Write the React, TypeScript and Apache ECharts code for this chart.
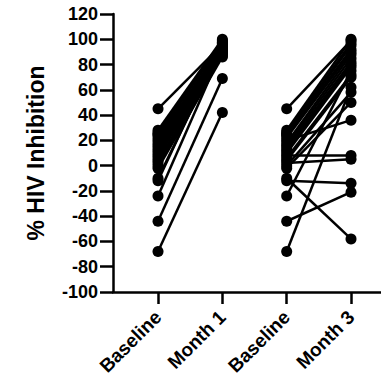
import React, { useEffect, useRef } from "react";
import * as echarts from "echarts";

const categories = ["Baseline", "Month 1", "Baseline", "Month 3"];
const yTicks = [-100, 120, 20]; // min, max, interval

// Paired subjects
const baseline = [45, 28, 26, 25, 24, 22, 20, 18, 16, 14, 12, 10, 8, 6, 4, 2, 0, -2, -10, -12, -24, -44, -68];
const month1 = [96, 100, 98, 97, 99, 95, 94, 93, 92, 91, 90, 89, 88, 95, 87, 93, 90, 86, 94, 97, 92, 69, 42];
const month3 = [99, 100, 97, 95, 92, 90, 36, 88, 85, 82, 80, 78, 8, 72, 70, 5, 58, 50, -58, -14, 75, -21, 62];

const FONT = "Arial, 'Liberation Sans', sans-serif";

export default function App() {
  const ref = useRef<HTMLDivElement>(null);
  useEffect(() => {
    if (!ref.current) return;
    const chart = echarts.init(ref.current, null, { renderer: "svg" });
    const series: any[] = [];
    baseline.forEach((b, i) => {
      series.push({
        type: "line",
        data: [[1, b], [2, month1[i]]],
        symbol: "circle",
        symbolSize: 11,
        lineStyle: { color: "#000", width: 2.5 },
        itemStyle: { color: "#000" },
      });
      series.push({
        type: "line",
        data: [[3, b], [4, month3[i]]],
        symbol: "circle",
        symbolSize: 11,
        lineStyle: { color: "#000", width: 2.5 },
        itemStyle: { color: "#000" },
      });
    });
    chart.setOption({
      animation: false,
      grid: { left: 113, right: 0, top: 14, bottom: 90, containLabel: false },
      xAxis: {
        type: "value",
        min: 0.3,
        max: 4.466,
        splitLine: { show: false },
        axisLine: { show: true, onZero: false, lineStyle: { color: "#000", width: 2.5 } },
        axisTick: { show: true, customValues: [1, 2, 3, 4], length: 12, lineStyle: { color: "#000", width: 2.5 } },
        axisLabel: {
          customValues: [1, 2, 3, 4],
          formatter: (v: number) => categories[Math.round(v) - 1] || "",
          rotate: 45,
          margin: 22,
          color: "#000",
          fontWeight: "bold",
          fontSize: 19,
          fontFamily: FONT,
        },
      },
      yAxis: {
        type: "value",
        min: yTicks[0],
        max: yTicks[1],
        interval: yTicks[2],
        name: "% HIV Inhibition",
        nameLocation: "middle",
        nameGap: 66,
        nameTextStyle: { color: "#000", fontWeight: "bold", fontSize: 23, fontFamily: FONT },
        splitLine: { show: false },
        axisLine: { show: true, lineStyle: { color: "#000", width: 2.5 } },
        axisTick: { show: true, length: 13, lineStyle: { color: "#000", width: 2.5 } },
        axisLabel: { color: "#000", fontWeight: "bold", fontSize: 18, fontFamily: FONT, margin: 15 },
      },
      series,
    });
    return () => chart.dispose();
  }, []);
  return (
    <div
      ref={ref}
      style={{ position: "fixed", left: 0, top: 0, width: 381, height: 382, background: "#fff" }}
    />
  );
}
